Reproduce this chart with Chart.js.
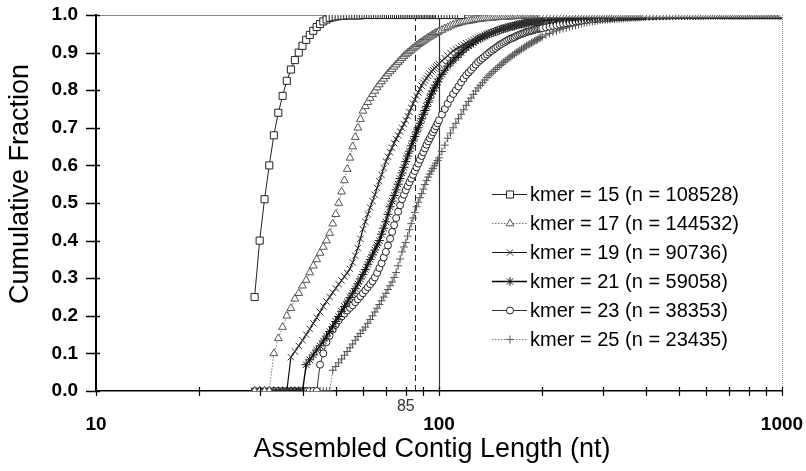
<!DOCTYPE html>
<html><head><meta charset="utf-8">
<script src="https://cdn.jsdelivr.net/npm/chart.js@4.4.1/dist/chart.umd.min.js"></script>
<style>html,body{margin:0;padding:0;background:#fff}#wrap{width:806px;height:471px;position:relative}canvas{display:block}</style>
</head><body><div id="wrap"><canvas id="c" width="806" height="471"></canvas></div>
<script>
// contig lengths (nt) at which the cumulative fractions were read
const lengths = [
29,30,31,32,33,34,35,36,37,38,
39,40,41,42,43,44,45,46,47,48,
49,50,51,52,53,54,55,56,57,58,
59,60,61,62,63,64,65,66,67,68,
69,70,71,72,73,74,75,76,77,78,
79,80,81,82,83,84,85,86,87,88,
89,90,91,92,93,94,95,96,97,98,
99,100,
102,104,106,108,110,112,114,116,118,120,
122,124,126,128,130,132,134,136,138,140,
142,144,146,148,150,152,154,156,158,160,
162,164,166,168,170,172,174,176,178,180,
182,184,186,188,190,192,194,196,198,200,
205,210,215,220,225,230,235,240,245,250,
255,260,265,270,275,280,285,290,295,300,
305,310,315,320,325,330,335,340,345,350,
355,360,365,370,375,380,385,390,395,400,
410,420,430,440,450,460,470,480,490,500,
510,520,530,540,550,560,570,580,590,600,
610,620,630,640,650,660,670,680,690,700,
710,720,730,740,750,760,770,780,790,800,
810,820,830,840,850,860,870,880,890,900,
910,920,930,940,950,960,970,980,990,1000];

const k15 = [
.25,.40,.51,.60,.68,.74,.785,.825,.855,.88,
.90,.918,.934,.947,.958,.968,.976,.983,.988,.992,
.994,.996,.997,.998,.998,.999,.999,.999,.999,.999,
.999,1,1,1,1,1,1,1,1,1,
1,1,1,1,1,1,1,1,1,1,
1,1,1,1,1,1,1,1,1,1,
1,1,1,1,1,1,1,1,1,1,
1,1,
1,1,1,1,1,1,1,1];

const k17 = [
0,0,0,0,.10,.14,.17,.20,.22,.245,
.26,.28,.295,.315,.333,.35,.367,.383,.40,.42,
.445,.47,.50,.53,.56,.59,.62,.65,.675,.70,
.723,.745,.757,.768,.779,.789,.798,.807,.815,.823,
.83,.837,.844,.85,.856,.862,.868,.874,.879,.885,
.89,.895,.899,.903,.907,.911,.915,.918,.922,.925,
.928,.931,.934,.937,.94,.942,.945,.947,.95,.952,
.954,.956,
.960,.964,.967,.971,.974,.976,.978,.980,.982,.983,
.984,.985,.986,.988,.989,.989,.990,.991,.991,.992,
.992,.993,.993,.994,.994,.994,.995,.995,.995,.996,
.996,.996,.996,.997,.997,.997,.997,.997,.998,.998,
.998,.998,.998,.998,.998,.999,.999,.999,.999,.999,
.999,.999,.999,.999,.999,.999,.999,1,1,1,
1,1,1,1,1,1,1,1,1,1,
1,1,1,1,1,1,1,1,1,1,
1,1,1,1,1,1,1,1,1,1,
1,1,1,1,1,1,1,1,1,1,
1,1,1,1,1,1,1,1,1,1,
1,1,1,1,1,1,1,1,1,1,
1,1,1,1,1,1,1,1,1,1,
1,1,1,1,1,1,1,1,1,1,
1,1,1,1,1,1,1,1,1,1];

const k19 = [
0,0,0,0,0,0,0,0,.09,.105,
.12,.135,.15,.165,.18,.195,.21,.225,.238,.25,
.262,.273,.284,.294,.304,.314,.325,.342,.36,.38,
.405,.43,.45,.47,.488,.505,.522,.54,.558,.575,
.593,.61,.623,.635,.647,.659,.67,.68,.69,.70,
.71,.72,.731,.742,.753,.764,.775,.785,.794,.803,
.812,.82,.826,.832,.838,.844,.85,.854,.858,.862,
.866,.87,
.878,.885,.892,.899,.905,.909,.913,.917,.921,.925,
.928,.931,.934,.937,.94,.942,.944,.947,.949,.951,
.953,.955,.957,.959,.961,.963,.964,.966,.967,.969,
.97,.971,.972,.973,.975,.975,.976,.977,.978,.979,
.98,.981,.981,.982,.983,.983,.984,.984,.985,.985,
.986,.987,.988,.989,.989,.99,.99,.991,.991,.992,
.992,.993,.993,.994,.994,.994,.995,.995,.995,.996,
.996,.996,.996,.997,.997,.997,.997,.997,.998,.998,
.998,.998,.998,.998,.998,.999,.999,.999,.999,.999,
.999,.999,.999,.999,.999,.999,.999,.999,.999,1,
1,1,1,1,1,1,1,1,1,1,
1,1,1,1,1,1,1,1,1,1,
1,1,1,1,1,1,1,1,1,1,
1,1,1,1,1,1,1,1,1,1,
1,1,1,1,1,1,1,1,1,1];

const k21 = [
0,0,0,0,0,0,0,0,0,0,
0,0,.07,.083,.096,.109,.12,.133,.146,.158,
.171,.185,.198,.212,.225,.237,.249,.26,.272,.285,
.298,.31,.323,.337,.35,.362,.375,.388,.40,.417,
.433,.45,.47,.49,.505,.52,.535,.55,.565,.58,
.595,.61,.625,.638,.652,.665,.677,.689,.70,.712,
.724,.735,.746,.757,.768,.779,.79,.798,.806,.814,
.822,.83,
.842,.853,.864,.872,.88,.887,.894,.90,.907,.913,
.918,.922,.926,.931,.935,.938,.941,.944,.947,.95,
.952,.954,.956,.958,.96,.962,.963,.965,.966,.968,
.969,.97,.971,.973,.974,.975,.976,.977,.978,.979,
.98,.981,.981,.982,.983,.983,.984,.984,.985,.985,
.986,.987,.987,.988,.989,.989,.99,.99,.991,.991,
.992,.992,.993,.993,.994,.994,.994,.995,.995,.995,
.996,.996,.996,.996,.997,.997,.997,.997,.997,.998,
.998,.998,.998,.998,.998,.998,.999,.999,.999,.999,
.999,.999,.999,.999,.999,.999,.999,.999,.999,1,
1,1,1,1,1,1,1,1,1,1,
1,1,1,1,1,1,1,1,1,1,
1,1,1,1,1,1,1,1,1,1,
1,1,1,1,1,1,1,1,1,1,
1,1,1,1,1,1,1,1,1,1];

const k23 = [
0,0,0,0,0,0,0,0,0,0,
0,0,0,0,0,0,.07,.10,.13,.147,
.163,.176,.188,.198,.206,.214,.221,.228,.236,.244,
.252,.26,.268,.276,.284,.292,.302,.314,.327,.34,
.355,.37,.387,.405,.423,.441,.46,.477,.494,.51,
.522,.534,.545,.555,.565,.575,.585,.595,.605,.615,
.625,.635,.645,.655,.664,.672,.68,.688,.696,.704,
.712,.72,
.735,.75,.764,.777,.79,.80,.81,.821,.831,.84,
.847,.854,.861,.868,.875,.88,.885,.89,.895,.90,
.904,.908,.912,.916,.92,.923,.926,.929,.932,.935,
.937,.939,.941,.944,.946,.948,.95,.951,.953,.955,
.956,.957,.958,.959,.961,.962,.963,.964,.964,.965,
.967,.969,.971,.973,.975,.977,.978,.98,.981,.983,
.984,.985,.986,.987,.988,.989,.989,.99,.99,.991,
.991,.992,.992,.993,.993,.994,.994,.994,.995,.995,
.995,.995,.996,.996,.996,.996,.996,.997,.997,.997,
.997,.997,.998,.998,.998,.998,.998,.999,.999,.999,
.999,.999,.999,.999,.999,.999,.999,.999,.999,1,
1,1,1,1,1,1,1,1,1,1,
1,1,1,1,1,1,1,1,1,1,
1,1,1,1,1,1,1,1,1,1,
1,1,1,1,1,1,1,1,1,1];

const k25 = [
0,0,0,0,0,0,0,0,0,0,
0,0,0,0,0,0,0,0,0,0,
.055,.065,.075,.085,.095,.105,.115,.125,.135,.145,
.153,.162,.17,.18,.19,.20,.21,.22,.23,.24,
.25,.26,.27,.28,.29,.302,.315,.333,.351,.37,
.383,.395,.412,.429,.445,.46,.475,.49,.502,.514,
.525,.537,.549,.56,.569,.577,.585,.592,.599,.606,
.613,.62,
.637,.654,.672,.686,.70,.712,.724,.736,.748,.76,
.77,.779,.789,.798,.806,.813,.82,.827,.834,.84,
.845,.85,.855,.86,.865,.869,.874,.878,.882,.886,
.889,.893,.896,.90,.903,.906,.909,.912,.915,.918,
.921,.923,.926,.928,.931,.933,.935,.938,.94,.942,
.947,.951,.955,.958,.961,.964,.966,.969,.971,.973,
.975,.977,.979,.98,.982,.983,.984,.985,.986,.987,
.987,.988,.988,.989,.989,.99,.99,.991,.991,.992,
.992,.993,.993,.993,.994,.994,.994,.994,.995,.995,
.995,.996,.996,.996,.997,.997,.997,.997,.998,.998,
.998,.998,.998,.998,.998,.998,.999,.999,.999,.999,
.999,.999,.999,.999,.999,.999,.999,.999,.999,.999,
.999,.999,.999,.999,.999,.999,.999,.999,.999,1,
1,1,1,1,1,1,1,1,1,1,
1,1,1,1,1,1,1,1,1,1];

const seriesLabels = [
'kmer = 15 (n = 108528)',
'kmer = 17 (n = 144532)',
'kmer = 19 (n = 90736)',
'kmer = 21 (n = 59058)',
'kmer = 23 (n = 38353)',
'kmer = 25 (n = 23435)'];
const seriesValues = [k15, k17, k19, k21, k23, k25];

const xTitle = 'Assembled Contig Length (nt)';
const yTitle = 'Cumulative Fraction';
const xLabelTicks = [10, 100, 1000];
const xTickValues = [10,20,30,40,50,60,70,80,90,100,200,300,400,500,600,700,800,900,1000];
const yTickValues = [0,0.1,0.2,0.3,0.4,0.5,0.6,0.7,0.8,0.9,1.0];
const dashedRef = 85;
const solidRef = 100;
const refLabel = '85';

const styles = [
  {ps:'rect', r:5, line:'#222', lw:1, dash:[], pc:'#222'},
  {ps:'triangle', r:4.5, line:'#777', lw:1, dash:[1.5,1.5], pc:'#555'},
  {ps:'crossRot', r:4.5, line:'#111', lw:1.2, dash:[], pc:'#333'},
  {ps:'star', r:4.5, line:'#000', lw:1.4, dash:[], pc:'#111'},
  {ps:'circle', r:3.5, line:'#333', lw:1, dash:[], pc:'#222'},
  {ps:'cross', r:4, line:'#777', lw:1, dash:[1.5,1.5], pc:'#555'}
];

const datasets = seriesValues.map((vals, i) => {
  const st = styles[i];
  return {
    label: seriesLabels[i],
    data: vals.map((y, j) => ({x: lengths[j], y: y})),
    showLine: true,
    borderColor: st.line, borderWidth: st.lw, borderDash: st.dash,
    pointStyle: st.ps, pointRadius: st.r, pointHoverRadius: st.r,
    pointBorderColor: st.pc, pointBackgroundColor: '#fff', pointBorderWidth: 1,
    fill: false, tension: 0
  };
});

function drawMarker(ctx, ps, x, y, r) {
  ctx.beginPath();
  if (ps === 'rect') { const s = r * Math.SQRT1_2; ctx.rect(x - s, y - s, 2 * s, 2 * s); ctx.fill(); ctx.stroke(); }
  else if (ps === 'triangle') {
    ctx.moveTo(x, y - r); ctx.lineTo(x + r * 0.866, y + r * 0.5); ctx.lineTo(x - r * 0.866, y + r * 0.5); ctx.closePath(); ctx.fill(); ctx.stroke();
  } else if (ps === 'circle') { ctx.arc(x, y, r, 0, Math.PI * 2); ctx.fill(); ctx.stroke(); }
  else {
    const d = r * Math.SQRT1_2;
    if (ps === 'cross' || ps === 'star') { ctx.moveTo(x, y - r); ctx.lineTo(x, y + r); ctx.moveTo(x - r, y); ctx.lineTo(x + r, y); }
    if (ps === 'crossRot' || ps === 'star') { ctx.moveTo(x - d, y - d); ctx.lineTo(x + d, y + d); ctx.moveTo(x + d, y - d); ctx.lineTo(x - d, y + d); }
    ctx.stroke();
  }
}

const refPlugin = {
  id: 'refPlugin',
  beforeDatasetsDraw(chart) {
    const ctx = chart.ctx, a = chart.chartArea, xs = chart.scales.x;
    ctx.save();
    ctx.strokeStyle = '#888'; ctx.lineWidth = 1;
    ctx.beginPath(); ctx.moveTo(a.left, a.top + 0.5); ctx.lineTo(a.right, a.top + 0.5); ctx.stroke();
    ctx.setLineDash([1, 1]);
    ctx.beginPath(); ctx.moveTo(a.right + 0.5, a.top); ctx.lineTo(a.right + 0.5, a.bottom); ctx.stroke();
    const x85 = Math.round(xs.getPixelForValue(dashedRef)) + 0.5;
    ctx.strokeStyle = '#222'; ctx.setLineDash([6, 4]);
    ctx.beginPath(); ctx.moveTo(x85, a.bottom); ctx.lineTo(x85, a.top); ctx.stroke();
    const x100 = Math.round(xs.getPixelForValue(solidRef)) + 0.5;
    ctx.setLineDash([]); ctx.strokeStyle = '#333'; ctx.lineWidth = 1.2;
    ctx.beginPath(); ctx.moveTo(x100, a.bottom); ctx.lineTo(x100, a.top); ctx.stroke();
    ctx.restore();
  },
  afterDraw(chart) {
    const ctx = chart.ctx, a = chart.chartArea, xs = chart.scales.x, ys = chart.scales.y;
    ctx.save();
    ctx.strokeStyle = '#000'; ctx.lineWidth = 1.5; ctx.setLineDash([]);
    yTickValues.forEach(v => {
      const py = Math.round(ys.getPixelForValue(v)) + 0.5;
      ctx.beginPath(); ctx.moveTo(a.left - 10, py); ctx.lineTo(a.left + 4, py); ctx.stroke();
    });
    ctx.lineWidth = 1.2;
    xTickValues.forEach(v => {
      const px = Math.round(xs.getPixelForValue(v)) + 0.5;
      ctx.beginPath(); ctx.moveTo(px, a.bottom - 4); ctx.lineTo(px, a.bottom + 5); ctx.stroke();
    });
    ctx.fillStyle = '#333'; ctx.font = '16px "Liberation Sans", Arial, sans-serif';
    ctx.textAlign = 'center'; ctx.textBaseline = 'middle';
    ctx.fillText(refLabel, xs.getPixelForValue(dashedRef) - 9, 407);
    ctx.fillStyle = '#000'; ctx.font = '27px "Liberation Sans", Arial, sans-serif';
    ctx.fillText(xTitle, 432, 450);
    ctx.save(); ctx.translate(21, 184); ctx.rotate(-Math.PI / 2); ctx.fillText(yTitle, 0, 0); ctx.restore();
    ctx.font = '20px "Liberation Sans", Arial, sans-serif'; ctx.textAlign = 'left';
    seriesLabels.forEach((lab, i) => {
      const st = styles[i], y = 194 + 29 * i;
      ctx.strokeStyle = st.line; ctx.lineWidth = st.lw; ctx.setLineDash(st.dash);
      ctx.beginPath(); ctx.moveTo(492, y + 0.5); ctx.lineTo(527, y + 0.5); ctx.stroke();
      ctx.setLineDash([]); ctx.strokeStyle = st.pc; ctx.fillStyle = '#fff'; ctx.lineWidth = 1;
      drawMarker(ctx, st.ps, 510, y + 0.5, st.r);
      ctx.fillStyle = '#000';
      ctx.fillText(lab, 530, y + 1);
    });
    ctx.restore();
  }
};

const tickFont = {family: '"Liberation Sans", Arial, sans-serif', weight: 'bold', size: 19};
new Chart(document.getElementById('c').getContext('2d'), {
  type: 'scatter',
  data: {datasets: datasets},
  options: {
    responsive: false, animation: false, devicePixelRatio: 1, events: [],
    layout: {padding: {top: 15, right: 24, left: 0, bottom: 0}},
    plugins: {legend: {display: false}, tooltip: {enabled: false}},
    scales: {
      x: {
        type: 'logarithmic', min: 10, max: 1000,
        afterBuildTicks: s => { s.ticks = xTickValues.map(v => ({value: v})); },
        afterFit: s => { s.height = 80; s.paddingLeft = 0; s.paddingRight = 0; },
        ticks: {autoSkip: false, maxRotation: 0, padding: 22, color: '#000', font: tickFont,
                callback: v => xLabelTicks.includes(v) ? String(v) : ''},
        grid: {display: false, drawTicks: false},
        border: {display: true, color: '#000', width: 1.5}
      },
      y: {
        min: 0, max: 1,
        afterBuildTicks: s => { s.ticks = yTickValues.map(v => ({value: v})); },
        afterFit: s => { s.width = 96; s.paddingTop = 0; s.paddingBottom = 0; },
        ticks: {padding: 18, color: '#000', font: tickFont, callback: v => Number(v).toFixed(1)},
        grid: {display: false, drawTicks: false},
        border: {display: true, color: '#000', width: 2}
      }
    }
  },
  plugins: [refPlugin]
});
</script></body></html>
